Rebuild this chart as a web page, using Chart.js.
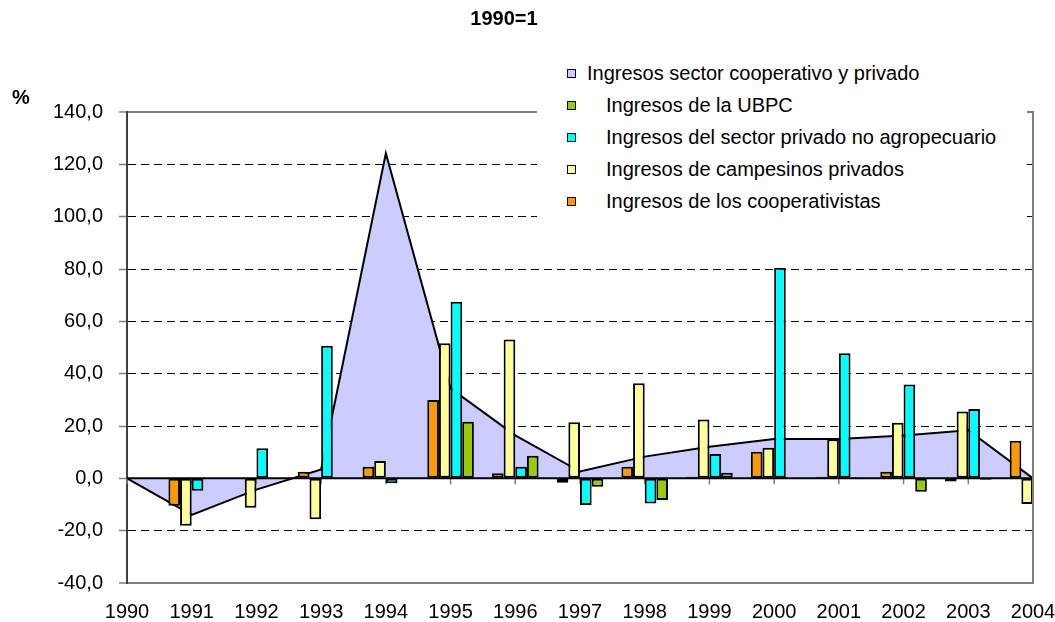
<!DOCTYPE html>
<html>
<head>
<meta charset="utf-8">
<script src="https://cdn.jsdelivr.net/npm/chart.js@4.4.1/dist/chart.umd.min.js"></script>
<style>
  body { margin: 0; background: #fff; }
  #wrap { position: relative; width: 1055px; height: 622px; font-family: "Liberation Sans", Arial, sans-serif; color: #000; }
  #chart { position: absolute; left: 0; top: 0; }
  .title { position: absolute; font-weight: bold; font-size: 20px; line-height: 23px; white-space: nowrap; }
  #legend { position: absolute; left: 537px; top: 50px; width: 490px; height: 190px; background: #fff; }
  .item { position: absolute; left: 0; height: 23px; font-size: 20px; line-height: 23px; white-space: nowrap; }
  .box { position: absolute; top: 7px; width: 7px; height: 7px; border: 1.5px solid #000; }
  .lbl { position: absolute; top: 0; }
</style>
</head>
<body>
<div id="wrap">
  <canvas id="chart" width="1055" height="622"></canvas>
  <div class="title" style="left:454px; width:100px; text-align:center; top:7px;">1990=1</div>
  <div class="title" style="left:12px; top:86px;">%</div>
  <div id="legend"></div>
</div>
<script>
// Categories and series (1990 = 1, % change)
const years = ['1990', '1991', '1992', '1993', '1994', '1995', '1996', '1997', '1998', '1999', '2000', '2001', '2002', '2003', '2004'];

const sectorCoopPrivado = [0, -14.0, -4.3, 3.4, 124.2, 34.4, 16.4, 2.6, 8.3, 12.1, 15.0, 15.0, 16.4, 18.4, 0];
const cooperativistas   = [null, -10.5, null, 2.5, 4.4, 29.9, 1.9, -1.7, 4.4, 0.6, 10.2, 0.6, 2.5, -1.2, 14.4];
const campesinos        = [null, -18.1, -11.2, -15.6, 6.6, 51.6, 53.1, 21.4, 36.3, 22.5, 11.7, 14.9, 21.2, 25.5, -9.8];
const privadoNoAgro     = [null, -4.7, 11.5, 50.7, -1.9, 67.5, 4.4, -10.2, -9.6, 9.3, 80.5, 47.8, 35.9, 26.5, null];
const ubpc              = [null, null, null, null, null, 21.6, 8.6, -3.2, -8.3, 2.1, null, 0.3, -5.1, -0.5, null];

const labels = {
    area: 'Ingresos sector cooperativo y privado',
    ubpc: 'Ingresos de la UBPC',
    privado: 'Ingresos del sector privado no agropecuario',
    campesinos: 'Ingresos de campesinos privados',
    coop: 'Ingresos de los cooperativistas'
};
const colors = {
    area: '#ccccff',
    ubpc: '#99cc00',
    privado: '#00ffff',
    campesinos: '#ffff99',
    coop: '#ff9900'
};

const FONT = '"Liberation Sans", Arial, sans-serif';

// Build the legend (Excel-style, reversed order)
const legendKeys = ['area', 'ubpc', 'privado', 'campesinos', 'coop'];
const legendEl = document.getElementById('legend');
legendKeys.forEach((k, i) => {
    const item = document.createElement('div');
    item.className = 'item';
    item.style.top = (73 - 50 - 11.5 + i * 32) + 'px';
    const box = document.createElement('span');
    box.className = 'box';
    box.style.left = '30px';
    box.style.background = colors[k];
    const lbl = document.createElement('span');
    lbl.className = 'lbl';
    lbl.style.left = (i === 0 ? 50 : 69) + 'px';
    lbl.textContent = labels[k];
    item.appendChild(box);
    item.appendChild(lbl);
    legendEl.appendChild(item);
});

// Zero line with category ticks, and right frame of the plot
const plotFrame = {
    id: 'plotFrame',
    afterDatasetDraw(chart, args) {
        if (args.meta.type !== 'line') return;
        const { ctx, chartArea: a, scales: { x, y } } = chart;
        const y0 = y.getPixelForValue(0);
        ctx.save();
        ctx.strokeStyle = '#808080';
        ctx.lineWidth = 1.5;
        x.ticks.forEach((t, i) => {
            const px = x.getPixelForTick(i);
            ctx.beginPath();
            ctx.moveTo(px, y0);
            ctx.lineTo(px, y0 + 6);
            ctx.stroke();
        });
        ctx.strokeStyle = '#000';
        ctx.lineWidth = 2;
        ctx.beginPath();
        ctx.moveTo(a.left, y0);
        ctx.lineTo(a.right, y0);
        ctx.stroke();
        ctx.restore();
    },
    afterDraw(chart) {
        const { ctx, chartArea: a } = chart;
        ctx.save();
        ctx.strokeStyle = '#808080';
        ctx.lineWidth = 2;
        ctx.beginPath();
        ctx.moveTo(a.right, a.top - 1);
        ctx.lineTo(a.right, a.bottom + 1);
        ctx.stroke();
        ctx.restore();
    }
};

const barStyle = {
    type: 'bar',
    borderColor: '#000',
    borderWidth: 2,
    borderSkipped: false,
    categoryPercentage: 0.72,
    barPercentage: 1.0,
    order: 1,
    clip: 0
};

const isFrame = v => v === 140 || v === -40;

new Chart(document.getElementById('chart'), {
    type: 'bar',
    data: {
        labels: years,
        datasets: [
            {
                type: 'line',
                label: labels.area,
                data: sectorCoopPrivado,
                fill: 'origin',
                backgroundColor: colors.area,
                borderColor: '#000',
                borderWidth: 2,
                pointRadius: 0,
                tension: 0,
                order: 2
            },
            Object.assign({ label: labels.coop, data: cooperativistas, backgroundColor: colors.coop }, barStyle),
            Object.assign({ label: labels.campesinos, data: campesinos, backgroundColor: colors.campesinos }, barStyle),
            Object.assign({ label: labels.privado, data: privadoNoAgro, backgroundColor: colors.privado }, barStyle),
            Object.assign({ label: labels.ubpc, data: ubpc, backgroundColor: colors.ubpc }, barStyle)
        ]
    },
    options: {
        responsive: false,
        animation: false,
        layout: { padding: { top: 112, right: 22, bottom: 0, left: 0 } },
        plugins: {
            legend: { display: false },
            tooltip: { enabled: false }
        },
        scales: {
            x: {
                offset: false,
                grid: { display: false, drawTicks: false },
                border: { display: true, color: '#808080', width: 2 },
                ticks: {
                    color: '#000',
                    font: { family: FONT, size: 20 },
                    padding: 17,
                    maxRotation: 0,
                    autoSkip: false
                },
                // fixed axis height; let the last label overhang into the right padding
                afterFit: s => { s.height = 39; s.paddingRight = 0; s.paddingLeft = 0; }
            },
            y: {
                min: -40,
                max: 140,
                ticks: {
                    stepSize: 20,
                    color: '#000',
                    font: { family: FONT, size: 20 },
                    padding: 16,
                    callback: v => v.toFixed(1).replace('.', ',')
                },
                grid: {
                    color: c => isFrame(c.tick && c.tick.value) ? '#808080' : '#000',
                    lineWidth: c => isFrame(c.tick && c.tick.value) ? 2 : 1,
                    tickColor: '#808080',
                    tickLength: 8,
                    tickWidth: 1.5,
                    tickBorderDash: []
                },
                border: {
                    color: '#404040',
                    width: 2,
                    dash: c => (c.tick && !isFrame(c.tick.value) && c.tick.value !== 0) ? [8, 5] : []
                },
                afterFit: s => { s.width = 127; }
            }
        }
    },
    plugins: [plotFrame]
});
</script>
</body>
</html>
